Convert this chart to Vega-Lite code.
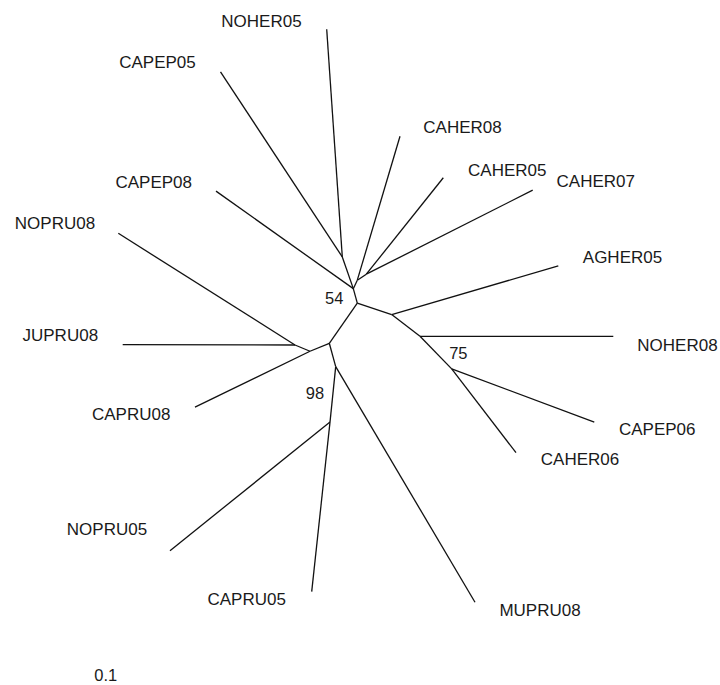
{
  "$schema": "https://vega.github.io/schema/vega-lite/v6.json",
  "width": 720,
  "height": 685,
  "autosize": {"type": "fit", "contains": "padding"},
  "padding": 0,
  "background": "white",
  "config": {"view": {"stroke": null}},
  "datasets": {
    "edges": [
      {"x": 357.3, "y": 304, "x2": 353.3, "y2": 289.5},
      {"x": 353.3, "y": 289.5, "x2": 342.3, "y2": 257.7},
      {"x": 342.3, "y": 257.7, "x2": 326.7, "y2": 29.3},
      {"x": 342.3, "y": 257.7, "x2": 220.5, "y2": 72},
      {"x": 353.3, "y": 289.5, "x2": 216, "y2": 191.7},
      {"x": 353.3, "y": 289.5, "x2": 357.3, "y2": 281},
      {"x": 357.3, "y": 281, "x2": 400, "y2": 136.7},
      {"x": 357.3, "y": 281, "x2": 366.3, "y2": 275},
      {"x": 366.3, "y": 275, "x2": 443.3, "y2": 178.3},
      {"x": 366.3, "y": 275, "x2": 532.7, "y2": 190.7},
      {"x": 357.3, "y": 304, "x2": 391.7, "y2": 315.5},
      {"x": 391.7, "y": 315.5, "x2": 558.3, "y2": 266.7},
      {"x": 391.7, "y": 315.5, "x2": 420, "y2": 337.3},
      {"x": 420, "y": 337.3, "x2": 613.3, "y2": 337.3},
      {"x": 420, "y": 337.3, "x2": 451.7, "y2": 370},
      {"x": 451.7, "y": 370, "x2": 594.3, "y2": 423.3},
      {"x": 451.7, "y": 370, "x2": 516, "y2": 454},
      {"x": 357.3, "y": 304, "x2": 329.3, "y2": 344.3},
      {"x": 329.3, "y": 344.3, "x2": 310, "y2": 352.3},
      {"x": 310, "y": 352.3, "x2": 295, "y2": 346},
      {"x": 295, "y": 346, "x2": 118.3, "y2": 234},
      {"x": 295, "y": 346, "x2": 122.7, "y2": 345.7},
      {"x": 310, "y": 352.3, "x2": 195, "y2": 408.3},
      {"x": 329.3, "y": 344.3, "x2": 335.7, "y2": 367.7},
      {"x": 335.7, "y": 367.7, "x2": 475, "y2": 604},
      {"x": 335.7, "y": 367.7, "x2": 330, "y2": 423.3},
      {"x": 330, "y": 423.3, "x2": 170, "y2": 552.3},
      {"x": 330, "y": 423.3, "x2": 311.7, "y2": 593.3}
    ],
    "labels": [
      {"x": 261.5, "y": 21.7, "label": "NOHER05"},
      {"x": 157.5, "y": 63, "label": "CAPEP05"},
      {"x": 153.7, "y": 184, "label": "CAPEP08"},
      {"x": 55, "y": 225, "label": "NOPRU08"},
      {"x": 60.3, "y": 336.7, "label": "JUPRU08"},
      {"x": 131.2, "y": 416.7, "label": "CAPRU08"},
      {"x": 107, "y": 532, "label": "NOPRU05"},
      {"x": 246.7, "y": 601.7, "label": "CAPRU05"},
      {"x": 540, "y": 612.7, "label": "MUPRU08"},
      {"x": 580, "y": 461.7, "label": "CAHER06"},
      {"x": 657.2, "y": 431.7, "label": "CAPEP06"},
      {"x": 677.5, "y": 346.7, "label": "NOHER08"},
      {"x": 622.5, "y": 258.3, "label": "AGHER05"},
      {"x": 595.8, "y": 182.7, "label": "CAHER07"},
      {"x": 507.3, "y": 171, "label": "CAHER05"},
      {"x": 462.5, "y": 128.3, "label": "CAHER08"}
    ],
    "support": [
      {"x": 334.2, "y": 299.7, "label": "54"},
      {"x": 458.3, "y": 355, "label": "75"},
      {"x": 315, "y": 395, "label": "98"},
      {"x": 105.8, "y": 678.3, "label": "0.1"}
    ]
  },
  "layer": [
    {
      "data": {"name": "edges"},
      "mark": {"type": "rule", "color": "#111111", "strokeWidth": 1.3},
      "encoding": {
        "x": {"field": "x", "type": "quantitative", "scale": {"domain": [0, 720]}, "axis": null},
        "y": {"field": "y", "type": "quantitative", "scale": {"domain": [0, 685], "reverse": true}, "axis": null},
        "x2": {"field": "x2"},
        "y2": {"field": "y2"}
      }
    },
    {
      "data": {"name": "labels"},
      "mark": {"type": "text", "font": "Liberation Sans", "fontSize": 17, "color": "#1a1a1a", "align": "center", "baseline": "middle"},
      "encoding": {
        "x": {"field": "x", "type": "quantitative", "scale": {"domain": [0, 720]}, "axis": null},
        "y": {"field": "y", "type": "quantitative", "scale": {"domain": [0, 685], "reverse": true}, "axis": null},
        "text": {"field": "label"}
      }
    },
    {
      "data": {"name": "support"},
      "mark": {"type": "text", "font": "Liberation Sans", "fontSize": 16.5, "color": "#1a1a1a", "align": "center", "baseline": "middle"},
      "encoding": {
        "x": {"field": "x", "type": "quantitative", "scale": {"domain": [0, 720]}, "axis": null},
        "y": {"field": "y", "type": "quantitative", "scale": {"domain": [0, 685], "reverse": true}, "axis": null},
        "text": {"field": "label"}
      }
    }
  ]
}
